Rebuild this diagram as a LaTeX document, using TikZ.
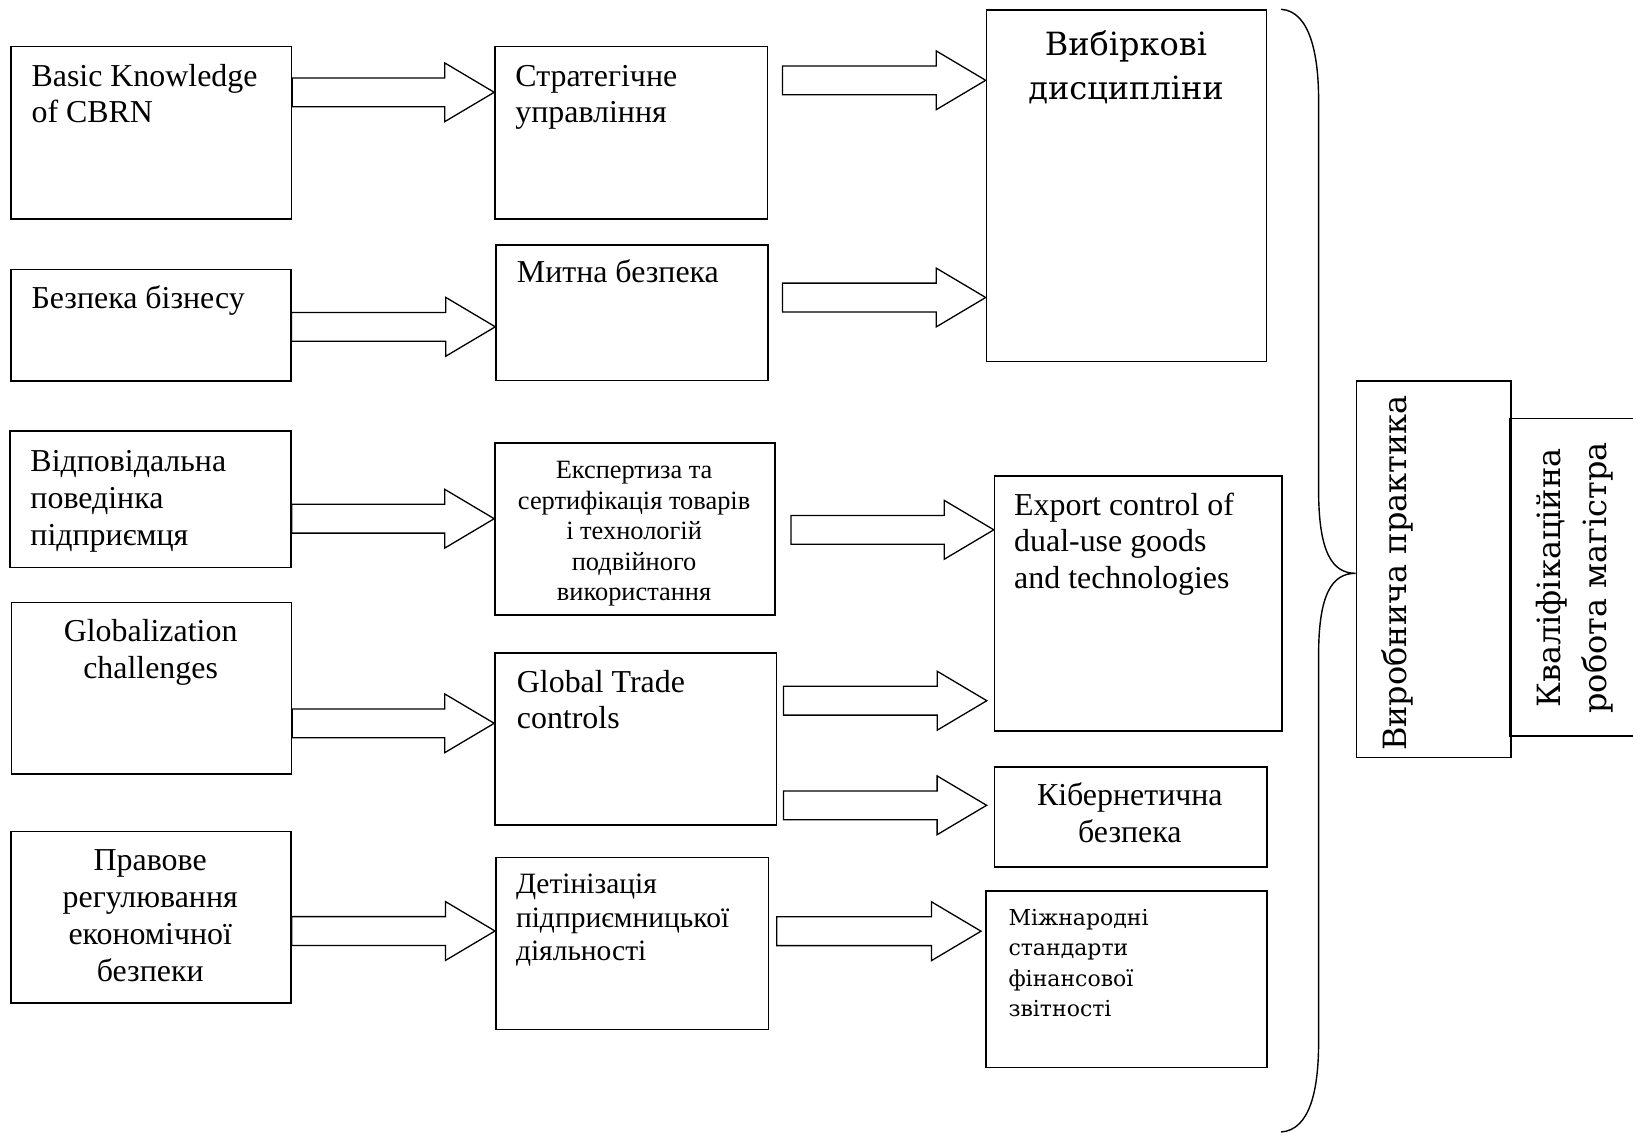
\documentclass[tikz,border=0pt]{standalone}
\usepackage{fontspec}
\setmainfont{Liberation Serif}
\newfontfamily\camfont{DejaVu Serif}
\usetikzlibrary{calc}
\tikzset{
  box/.style={draw, line width=1.5pt, inner sep=0pt, anchor=north west},
  txt/.style={inner sep=0pt, font=\fontsize{31.9}{36.7}\selectfont},
  smalltxt/.style={inner sep=0pt, font=\fontsize{26.4}{30.5}\selectfont},
  camtxt/.style={inner sep=0pt, font=\camfont\fontsize{32}{44}\selectfont},
  camsmall/.style={inner sep=0pt, font=\camfont\fontsize{22}{30.5}\selectfont},
  arrowline/.style={draw, line width=1.3pt, line join=miter},
  braceline/.style={draw, line width=1.4pt},
}
\newcommand\blockarrow[2]{%
  \draw[arrowline] let \p1=#1, \p2=#2 in
    ({\x1},{\y2+14.4pt}) -- ({\x2-49.5pt},{\y2+14.4pt}) -- ({\x2-49.5pt},{\y2+29.4pt})
    -- ({\x2},{\y2}) -- ({\x2-49.5pt},{\y2-29.4pt}) -- ({\x2-49.5pt},{\y2-14.4pt})
    -- ({\x1},{\y2-14.4pt}) -- cycle;}
\begin{document}
\begin{tikzpicture}[x=1pt,y=-1pt]
\useasboundingbox[fill=white] (0,0) rectangle (1633,1135);
% boxes
\node[box, minimum width=280.3pt, minimum height=172.3pt] (A1) at (10.4,45.7) {};
\node[box, minimum width=280pt, minimum height=111.6pt] (A2) at (10,268.7) {};
\node[box, minimum width=280.9pt, minimum height=136.7pt] (A3) at (9.4,430) {};
\node[box, minimum width=280.3pt, minimum height=171.6pt] (A4) at (10.5,601.7) {};
\node[box, minimum width=280.2pt, minimum height=171.6pt] (A5) at (10,830.7) {};
\node[box, minimum width=272.5pt, minimum height=172.3pt] (B1) at (494.2,45.7) {};
\node[box, minimum width=271.9pt, minimum height=135.7pt] (B2) at (495.3,244) {};
\node[box, minimum width=279.8pt, minimum height=171.7pt] (B3) at (494.2,442.3) {};
\node[box, minimum width=281.4pt, minimum height=172pt] (B4) at (494.2,652.3) {};
\node[box, minimum width=272.8pt, minimum height=172pt] (B5) at (495,856.7) {};
\node[box, minimum width=280.1pt, minimum height=351.4pt] (C1) at (985.7,9.3) {};
\node[box, minimum width=287.2pt, minimum height=254.7pt] (C2) at (993.8,475.3) {};
\node[box, minimum width=272.4pt, minimum height=100pt] (C3) at (993.6,766) {};
\node[box, minimum width=281pt, minimum height=176.7pt] (C4) at (985,890) {};
\node[box, minimum width=154.4pt, minimum height=376.7pt] (D1) at (1355.6,380) {};
\node[box, minimum width=160pt, minimum height=317.3pt] (D2) at (1509,417.7) {};
% texts
\node[txt, align=left, anchor=north west] (tA1) at (31.4,60.3) {\strut Basic Knowledge\\of CBRN};
\node[txt, align=left, anchor=north west] (tA2) at (31.4,282.8) {\strut Безпека бізнесу};
\node[txt, align=left, anchor=north west] (tA3) at (30.3,445.8) {\strut Відповідальна\\поведінка\\підприємця};
\node[txt, align=center, anchor=north] (tA4) at (150.6,616) {\strut Globalization\\challenges};
\node[txt, align=center, anchor=north] (tA5) at (150.2,845) {\strut Правове\\регулювання\\економічної\\безпеки};
\node[txt, align=left, anchor=north west] (tB1) at (515.2,60.3) {\strut Стратегічне\\управління};
\node[txt, align=left, anchor=north west] (tB2) at (516.7,256.8) {\strut Митна безпека};
\node[smalltxt, align=center, anchor=north] (tB3) at (634.1,457) {\strut Експертиза та\\сертифікація товарів\\і технологій\\подвійного\\використання};
\node[txt, align=left, anchor=north west] (tB4) at (516.7,666.3) {\strut Global Trade\\controls};
\node[txt, align=left, anchor=north west, font=\fontsize{29.5}{33.7}\selectfont] (tB5) at (515.8,869.7) {\strut Детінізація\\підприємницької\\діяльності};
\node[camtxt, align=center, anchor=north] (tC1) at (1126,24.2) {\strut Вибіркові\\дисципліни};
\node[txt, align=left, anchor=north west] (tC2) at (1014,489.3) {\strut Export control of\\dual-use goods\\and technologies};
\node[txt, align=center, anchor=north] (tC3) at (1129.8,780) {\strut Кібернетична\\безпека};
\node[camsmall, align=left, anchor=north west] (tC4) at (1008.3,903.7) {\strut Міжнародні\\стандарти\\фінансової\\звітності};
\node[camtxt, rotate=90, anchor=base] (tD1) at (1406.7,573) {Виробнича практика};
\node[camtxt, rotate=90, align=center, anchor=center, font=\camfont\fontsize{32}{46.7}\selectfont] (tD2) at (1574,578) {\strut Кваліфікаційна\\\strut робота магістра};
% block arrows
\blockarrow{(A1.east |- 0,92.3)}{(B1.west |- 0,92.3)}
\blockarrow{(A2.east |- 0,326.8)}{(B2.west |- 0,326.8)}
\blockarrow{(A3.east |- 0,518.7)}{(B3.west |- 0,518.7)}
\blockarrow{(A4.east |- 0,723.3)}{(B4.west |- 0,723.3)}
\blockarrow{(A5.east |- 0,931)}{(B5.west |- 0,931)}
\blockarrow{($(B1.east)+(14.3,0)$)}{(C1.west |- 0,80.3)}
\blockarrow{($(B2.east)+(13.8,0)$)}{(C1.west |- 0,297.5)}
\blockarrow{($(B3.east)+(15.5,0)$)}{(C2.west |- 0,529.8)}
\blockarrow{($(B4.east)+(6.4,0)$)}{($(C2.west |- 0,700.7)+(-7,0)$)}
\blockarrow{($(B4.east)+(6.4,0)$)}{($(C3.west |- 0,805.3)+(-7,0)$)}
\blockarrow{($(B5.east)+(7.5,0)$)}{($(C4.west |- 0,931.2)+(-4,0)$)}
% brace
\coordinate (bracetip) at (D1.west |- 0,573.3);
\draw[braceline] (1281,9.3) .. controls (1310,11) and (1318.6,55) .. (1318.6,100)
  -- (1318.6,490) .. controls (1318.6,552) and (1332,573.3) .. (bracetip)
  .. controls (1332,573.3) and (1318.6,594) .. (1318.6,655)
  -- (1318.6,1042) .. controls (1318.6,1090) and (1310,1130) .. (1281,1132);
\end{tikzpicture}
\end{document}
